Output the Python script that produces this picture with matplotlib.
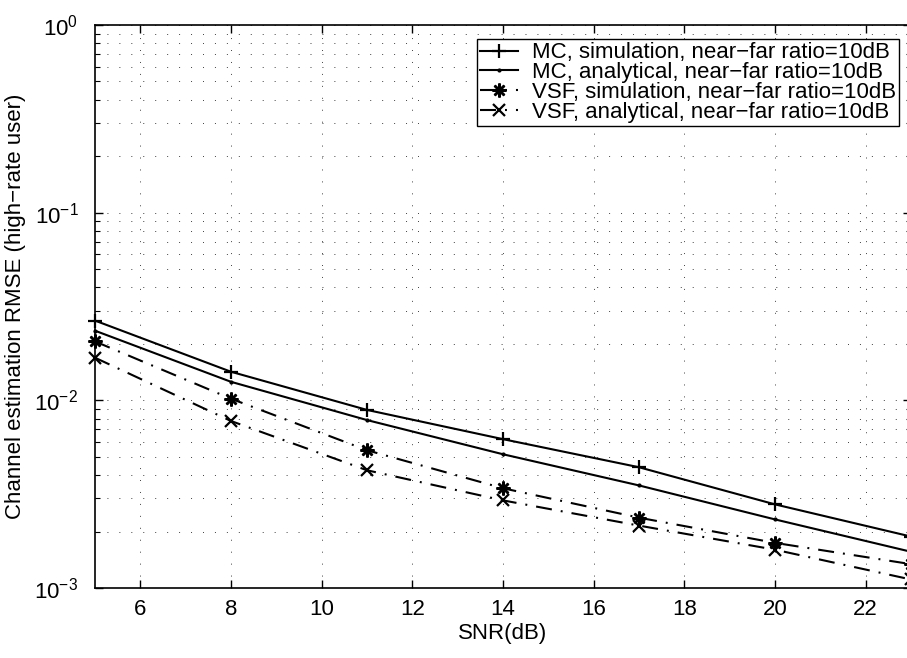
import matplotlib
matplotlib.use("Agg")
import matplotlib.pyplot as plt
import numpy as np

snr = [5, 8, 11, 14, 17, 20, 23]
mc_sim = [0.0266, 0.0142, 0.00889, 0.00621, 0.00440, 0.00279, 0.00188]
mc_ana = [0.0235, 0.01255, 0.00785, 0.00516, 0.00352, 0.00232, 0.00156]
vsf_sim = [0.0206, 0.0102, 0.00542, 0.00340, 0.00237, 0.00174, 0.00134]
vsf_ana = [0.01687, 0.00776, 0.00424, 0.00293, 0.00215, 0.00160, 0.00111]
labels = ["MC, simulation, near\u2212far ratio=10dB",
          "MC, analytical, near\u2212far ratio=10dB",
          "VSF, simulation, near\u2212far ratio=10dB",
          "VSF, analytical, near\u2212far ratio=10dB"]

plt.rcParams.update({'font.size': 16,
                     'font.family': ['Liberation Sans', 'DejaVu Sans'],
                     'mathtext.fontset': 'custom',
                     'mathtext.rm': 'Liberation Sans',
                     'lines.scale_dashes': False})

fig = plt.figure(figsize=(9.07, 6.58), dpi=100, facecolor='w')
ax = fig.add_axes([95 / 907, 70 / 658, 816 / 907, 563 / 658])

dashdot = (0, (11.5, 6.5, 1.4, 6.5))
ax.plot(snr, mc_sim, color='k', linestyle='-', linewidth=1.5, marker='+',
        markersize=10, markeredgewidth=1.6, label=labels[0], clip_on=False)
ax.plot(snr, mc_ana, color='k', linestyle='-', linewidth=1.5, marker='.',
        markersize=4, label=labels[1], clip_on=False)
ax.plot(snr, vsf_sim, color='k', linestyle=dashdot, linewidth=1.5,
        marker=(8, 2, 0), markersize=10, markeredgewidth=1.8,
        label=labels[2], clip_on=False)
ax.plot(snr, vsf_ana, color='k', linestyle=dashdot, linewidth=1.5,
        marker='x', markersize=8, markeredgewidth=1.6,
        label=labels[3], clip_on=False)

ax.set_yscale('log')
ax.set_xlim(5, 23)
ax.set_ylim(1e-3, 1e0)
ax.set_xticks([6, 8, 10, 12, 14, 16, 18, 20, 22])
ax.tick_params(which='both', direction='in', top=True, right=True,
               labelsize=16)
ax.tick_params(axis='x', pad=8)
ax.tick_params(axis='y', pad=12)
ax.tick_params(which='major', length=6, width=1)
ax.tick_params(which='minor', length=3.5, width=0.8)
ax.xaxis.set_minor_locator(matplotlib.ticker.NullLocator())

grid_style = (0, (0.7, 7.9))
ax.grid(True, which='major', axis='both', color='0.25', linewidth=0.7,
        linestyle=grid_style)
ax.grid(True, which='minor', axis='y', color='0.25', linewidth=0.7,
        linestyle=grid_style)
for s in ax.spines.values():
    s.set_linewidth(1.2)

ax.set_xlabel("SNR(dB)", fontsize=16, labelpad=2)
ax.set_ylabel("Channel estimation RMSE (high\u2212rate user)", fontsize=16,
              labelpad=6)

leg = ax.legend(loc='upper right', fontsize=16, fancybox=False,
                framealpha=1, edgecolor='k', borderpad=0.15, labelspacing=-0.05,
                handlelength=1.7, handletextpad=0.6, borderaxespad=0)
leg.set_bbox_to_anchor((899 / 907, 1 - 39 / 658), transform=fig.transFigure)
leg.get_frame().set_linewidth(1.0)

plt.savefig("out.png", dpi=100)
